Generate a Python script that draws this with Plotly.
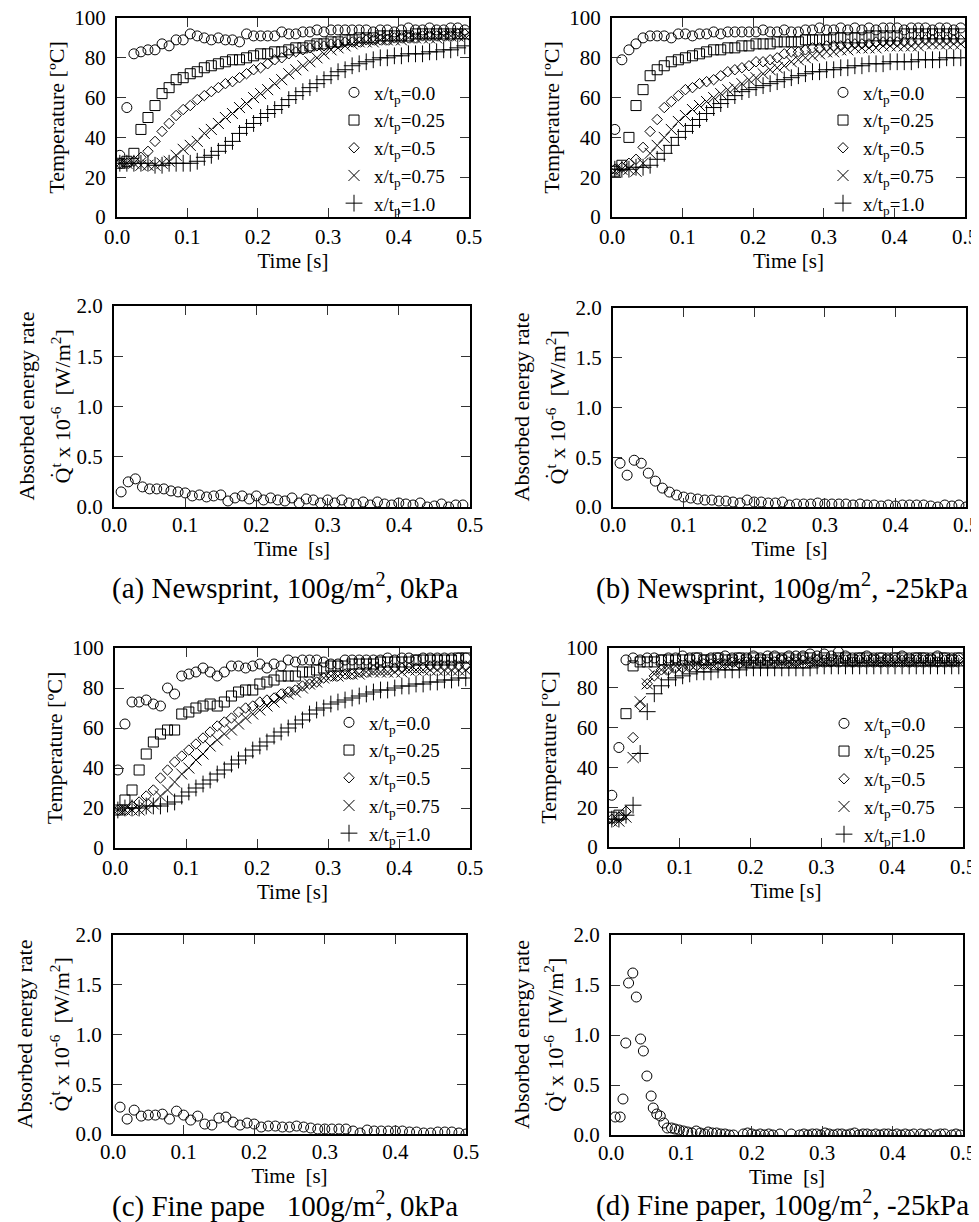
import plotly.graph_objects as go

# The page body has an 8 px margin; the figure is sized so that it fills the
# 979x1222 window exactly, and reference pixel positions are shifted by that margin.
PAGE_W, PAGE_H = 979, 1222
OFF = 8
W, H = PAGE_W - OFF, PAGE_H - OFF
FONT = "Liberation Serif"

# ---------------- data ----------------
T_TEMP = [0.004, 0.014, 0.024, 0.034, 0.044, 0.054, 0.064, 0.074, 0.084, 0.094,
          0.104, 0.114, 0.124, 0.134, 0.144, 0.154, 0.164, 0.174, 0.184, 0.194,
          0.204, 0.214, 0.224, 0.234, 0.244, 0.254, 0.264, 0.274, 0.284, 0.294,
          0.304, 0.314, 0.324, 0.334, 0.344, 0.354, 0.364, 0.374, 0.384, 0.394,
          0.404, 0.414, 0.424, 0.434, 0.444, 0.454, 0.464, 0.474, 0.484, 0.494]

SERIES_LABELS = ["x/t<sub>p</sub>=0.0", "x/t<sub>p</sub>=0.25", "x/t<sub>p</sub>=0.5",
                 "x/t<sub>p</sub>=0.75", "x/t<sub>p</sub>=1.0"]

# (a) Newsprint, 0kPa
A_00 = [31, 55, 82, 83, 84, 84, 87, 86, 89, 89,
        92, 91, 90, 89, 90, 89, 89, 88, 92, 91,
        91, 91, 91, 93, 92, 92, 93, 93, 94, 93,
        94, 94, 94, 94, 94, 94, 93, 94, 94, 93,
        94, 95, 94, 94, 95, 94, 94, 95, 95, 94]
A_025 = [27, 28, 32, 44, 50, 56, 62, 65, 69, 70,
         72, 73, 75, 76, 77, 78, 79, 79, 80, 81,
         82, 82, 83, 83, 84, 85, 85, 86, 87, 87,
         88, 88, 89, 89, 90, 90, 90, 91, 91, 91,
         91, 91, 92, 92, 92, 92, 92, 92, 92, 92]
A_05 = [27, 27, 28, 30, 33, 38, 43, 47, 51, 54,
        56, 59, 61, 63, 65, 67, 68, 70, 72, 74,
        75, 77, 79, 80, 82, 83, 84, 85, 86, 86,
        87, 87, 88, 88, 88, 89, 89, 89, 89, 90,
        90, 90, 90, 91, 91, 91, 91, 91, 92, 92]
A_075 = [27, 27, 27, 26, 26, 26, 27, 28, 31, 34,
         36, 38, 42, 44, 47, 50, 52, 55, 57, 60,
         62, 64, 67, 69, 72, 74, 76, 78, 80, 82,
         84, 85, 86, 87, 88, 88, 88, 89, 89, 89,
         89, 90, 90, 90, 90, 90, 91, 91, 91, 91]
A_10 = [27, 27, 27, 27, 27, 26, 26, 27, 27, 27,
        27, 28, 30, 31, 33, 36, 38, 42, 45, 47,
        50, 52, 54, 56, 59, 61, 63, 65, 67, 69,
        71, 73, 74, 76, 77, 78, 79, 80, 80, 81,
        81, 82, 82, 82, 83, 83, 84, 84, 85, 86]

# (b) Newsprint, -25kPa
B_00 = [44, 79, 84, 87, 90, 91, 91, 91, 90, 92,
        92, 91, 92, 92, 93, 92, 93, 93, 93, 93,
        93, 94, 93, 93, 94, 93, 93, 94, 94, 95,
        94, 94, 95, 94, 95, 94, 95, 94, 95, 95,
        95, 94, 95, 95, 95, 94, 95, 95, 94, 95]
B_025 = [23, 26, 40, 56, 64, 71, 74, 76, 78, 79,
         80, 81, 82, 83, 84, 84, 85, 85, 86, 86,
         87, 87, 87, 88, 88, 88, 88, 89, 89, 89,
         89, 90, 90, 90, 90, 90, 91, 91, 91, 91,
         91, 92, 92, 92, 92, 92, 92, 92, 92, 92]
B_05 = [24, 25, 27, 29, 35, 43, 49, 55, 58, 61,
        64, 65, 67, 68, 69, 71, 73, 74, 75, 76,
        78, 78, 79, 80, 82, 83, 83, 84, 85, 85,
        86, 86, 86, 87, 87, 87, 87, 88, 88, 88,
        88, 88, 88, 89, 89, 89, 89, 89, 89, 89]
B_075 = [23, 24, 24, 23, 27, 32, 36, 40, 44, 48,
         51, 54, 56, 58, 60, 62, 64, 65, 67, 69,
         70, 72, 74, 75, 76, 78, 79, 80, 81, 82,
         83, 83, 84, 84, 85, 85, 85, 85, 86, 86,
         86, 86, 86, 86, 87, 87, 87, 87, 87, 87]
B_10 = [24, 24, 24, 25, 25, 26, 29, 32, 36, 40,
        43, 46, 49, 52, 55, 57, 59, 61, 63, 64,
        65, 66, 67, 68, 69, 70, 71, 72, 73, 73,
        74, 74, 75, 75, 76, 76, 77, 77, 77, 78,
        78, 78, 78, 79, 79, 79, 79, 80, 80, 80]

# (c) Fine paper, 0kPa
C_00 = [39, 62, 73, 73, 74, 72, 71, 80, 77, 86,
        87, 88, 90, 88, 86, 88, 91, 91, 90, 91,
        92, 90, 92, 91, 94, 93, 94, 94, 94, 93,
        92, 92, 94, 94, 94, 94, 94, 94, 95, 94,
        95, 95, 94, 95, 95, 95, 95, 95, 95, 95]
C_025 = [19, 24, 29, 39, 47, 53, 57, 59, 59, 67,
         68, 70, 71, 72, 71, 73, 76, 78, 79, 79,
         82, 83, 84, 86, 86, 86, 88, 88, 89, 90,
         91, 91, 91, 92, 92, 92, 92, 93, 93, 93,
         93, 93, 94, 94, 94, 94, 94, 94, 95, 95]
C_05 = [19, 19, 21, 23, 26, 29, 35, 39, 43, 46,
        49, 52, 55, 58, 61, 63, 65, 68, 70, 71,
        73, 74, 75, 77, 78, 79, 81, 82, 83, 85,
        86, 86, 87, 87, 88, 88, 89, 89, 89, 90,
        90, 90, 90, 90, 91, 91, 91, 91, 91, 91]
C_075 = [19, 19, 19, 19, 20, 22, 26, 29, 33, 37,
         40, 44, 47, 51, 54, 57, 59, 62, 65, 67,
         69, 71, 73, 75, 77, 78, 80, 82, 83, 85,
         86, 86, 87, 87, 87, 88, 88, 88, 88, 88,
         88, 89, 89, 89, 89, 89, 89, 89, 89, 89]
C_10 = [19, 20, 20, 20, 21, 21, 21, 22, 23, 26,
        28, 30, 32, 34, 37, 39, 42, 44, 46, 49,
        51, 53, 56, 58, 60, 62, 64, 67, 69, 70,
        72, 73, 74, 75, 76, 77, 78, 79, 79, 80,
        81, 81, 82, 82, 83, 83, 84, 84, 85, 85]

# (d) Fine paper, -25kPa
D_00 = [26, 50, 94, 95, 94, 95, 95, 94, 95, 95,
        96, 95, 95, 94, 95, 95, 96, 95, 95, 95,
        96, 95, 96, 96, 95, 96, 96, 96, 97, 96,
        97, 96, 98, 96, 95, 95, 96, 95, 95, 95,
        95, 96, 95, 95, 95, 95, 96, 95, 95, 95]
D_025 = [15, 16, 67, 91, 93, 93, 93, 94, 94, 94,
         94, 94, 95, 94, 94, 95, 94, 94, 95, 94,
         95, 94, 94, 95, 94, 95, 94, 95, 95, 94,
         95, 94, 95, 95, 94, 95, 95, 94, 95, 94,
         95, 95, 94, 95, 95, 94, 95, 95, 94, 95]
D_05 = [14, 15, 18, 55, 71, 82, 86, 89, 89, 90,
        90, 91, 91, 92, 92, 92, 92, 93, 92, 93,
        93, 93, 93, 93, 94, 93, 93, 94, 93, 94,
        94, 93, 94, 94, 93, 94, 94, 94, 93, 94,
        94, 94, 93, 94, 94, 94, 93, 94, 94, 94]
D_075 = [13, 13, 15, 45, 73, 82, 87, 89, 90, 91,
         91, 92, 92, 92, 92, 93, 92, 93, 93, 93,
         93, 93, 93, 93, 93, 93, 93, 93, 93, 93,
         93, 93, 94, 93, 93, 93, 93, 93, 93, 93,
         93, 93, 93, 93, 93, 93, 93, 93, 93, 93]
D_10 = [14, 14, 16, 21, 47, 68, 77, 81, 84, 85,
        86, 87, 88, 88, 88, 89, 89, 89, 89, 90,
        90, 90, 90, 90, 90, 90, 90, 90, 90, 91,
        91, 91, 91, 91, 91, 91, 91, 91, 91, 91,
        91, 91, 91, 91, 91, 91, 91, 91, 91, 91]

# Absorbed energy rate (x 1e-6 W/m2)
T_ENERGY = [0.01, 0.02, 0.03, 0.04, 0.05, 0.06, 0.07, 0.08, 0.09, 0.10,
            0.11, 0.12, 0.13, 0.14, 0.15, 0.16, 0.17, 0.18, 0.19, 0.20,
            0.21, 0.22, 0.23, 0.24, 0.25, 0.26, 0.27, 0.28, 0.29, 0.30,
            0.31, 0.32, 0.33, 0.34, 0.35, 0.36, 0.37, 0.38, 0.39, 0.40,
            0.41, 0.42, 0.43, 0.44, 0.45, 0.46, 0.47, 0.48, 0.49, 0.50]
E_A = [0.15, 0.25, 0.28, 0.20, 0.18, 0.18, 0.18, 0.16, 0.15, 0.14,
       0.11, 0.12, 0.10, 0.11, 0.12, 0.06, 0.09, 0.11, 0.08, 0.11,
       0.07, 0.09, 0.07, 0.06, 0.09, 0.04, 0.08, 0.07, 0.04, 0.07,
       0.04, 0.07, 0.04, 0.03, 0.05, 0.02, 0.05, 0.03, 0.02, 0.04,
       0.03, 0.02, 0.04, 0.00, 0.01, 0.03, 0.00, 0.02, 0.02]
E_B = [0.44, 0.32, 0.47, 0.44, 0.34, 0.26, 0.19, 0.15, 0.12, 0.10,
       0.09, 0.08, 0.07, 0.07, 0.06, 0.06, 0.05, 0.04, 0.07, 0.05,
       0.05, 0.04, 0.04, 0.05, 0.02, 0.03, 0.03, 0.03, 0.04, 0.03,
       0.03, 0.03, 0.03, 0.02, 0.03, 0.02, 0.02, 0.01, 0.02, 0.01,
       0.02, 0.02, 0.02, 0.02, 0.01, 0.00, 0.02, 0.01, 0.02, 0.00]
E_C = [0.27, 0.15, 0.24, 0.18, 0.19, 0.19, 0.20, 0.15, 0.23, 0.19,
       0.14, 0.18, 0.10, 0.09, 0.16, 0.17, 0.12, 0.09, 0.11, 0.10,
       0.07, 0.08, 0.08, 0.07, 0.07, 0.08, 0.07, 0.06, 0.05, 0.05,
       0.05, 0.05, 0.05, 0.03, 0.01, 0.04, 0.03, 0.03, 0.03, 0.03,
       0.03, 0.02, 0.02, 0.01, 0.01, 0.02, 0.02, 0.02, 0.01, 0.00]
T_ENERGY_D = [0.006, 0.013, 0.017, 0.021, 0.025, 0.031, 0.036, 0.042, 0.046, 0.051,
              0.057, 0.060, 0.065, 0.070, 0.075, 0.080, 0.086, 0.091, 0.097, 0.103,
              0.109, 0.115, 0.121, 0.127, 0.133, 0.138, 0.144, 0.150, 0.156, 0.162,
              0.168, 0.174,
              0.188, 0.194, 0.200, 0.206, 0.212, 0.218, 0.224, 0.230, 0.240, 0.256,
              0.268, 0.274, 0.280, 0.286, 0.292, 0.298, 0.304, 0.310, 0.316, 0.322,
              0.328, 0.334, 0.340, 0.346, 0.352, 0.358, 0.364, 0.370, 0.376, 0.382,
              0.388, 0.394, 0.400, 0.406, 0.412, 0.418, 0.424, 0.430, 0.440, 0.446,
              0.452, 0.462, 0.468, 0.474, 0.484, 0.490, 0.496]
E_D = [0.18, 0.18, 0.36, 0.92, 1.52, 1.62, 1.38, 0.96, 0.84, 0.59,
       0.39, 0.27, 0.21, 0.19, 0.12, 0.07, 0.07, 0.06, 0.05, 0.04,
       0.03, 0.02, 0.04, 0.02, 0.01, 0.03, 0.02, 0.02, 0.01, 0.01,
       0.00, 0.00,
       0.01, 0.02, 0.01, 0.00, 0.01, 0.00, 0.01, 0.00, 0.01, 0.01,
       0.00, 0.01, 0.00, 0.01, 0.01, 0.00, 0.02, 0.01, 0.00, 0.01,
       0.01, 0.00, 0.01, 0.02, 0.00, 0.01, 0.01, 0.00, 0.01, 0.00,
       0.01, 0.01, 0.00, 0.01, 0.00, 0.01, 0.00, 0.01, 0.01, 0.00,
       0.01, 0.00, 0.01, 0.01, 0.00, 0.01, 0.00]

X_TICKS = [0.0, 0.1, 0.2, 0.3, 0.4, 0.5]
X_TICKTEXT = ["0.0", "0.1", "0.2", "0.3", "0.4", "0.5"]
T_TICKS = [0, 20, 40, 60, 80, 100]
E_TICKS = [0.0, 0.5, 1.0, 1.5, 2.0]
E_TICKTEXT = ["0.0", "0.5", "1.0", "1.5", "2.0"]

CAPTIONS = ["(a) Newsprint, 100g/m<sup>2</sup>, 0kPa",
            "(b) Newsprint, 100g/m<sup>2</sup>, -25kPa",
            "(c) Fine pape\u00a0\u00a0\u00a0100g/m<sup>2</sup>, 0kPa",
            "(d) Fine paper, 100g/m<sup>2</sup>, -25kPa"]

# ---------------- styling / layout ----------------
SYMBOLS = ["circle-open", "square-open", "diamond-open", "x-thin-open", "cross-thin-open"]
SIZES = [10, 10, 8, 11, 12]


def xdom(l, r):
    return [(l - OFF) / W, (r - OFF) / W]


def ydom(t, b):
    return [1 - (b - OFF) / H, 1 - (t - OFF) / H]


def px(x):
    return (x - OFF) / W


def py(y):
    return 1 - (y - OFF) / H


temp_panels = [
    dict(ax=1, box=(117, 469, 18, 217), series=[A_00, A_025, A_05, A_075, A_10], legend="legend", leg=(334, 148)),
    dict(ax=2, box=(612, 965, 18, 217), series=[B_00, B_025, B_05, B_075, B_10], legend="legend2", leg=(823, 148)),
    dict(ax=5, box=(115, 470, 648, 848), series=[C_00, C_025, C_05, C_075, C_10], legend="legend3", leg=(329, 778)),
    dict(ax=6, box=(609, 963, 648, 847), series=[D_00, D_025, D_05, D_075, D_10], legend="legend4", leg=(824, 779)),
]
energy_panels = [
    dict(ax=3, box=(114, 470, 306, 507), t=T_ENERGY[:len(E_A)], e=E_A, tx=(26, 60)),
    dict(ax=4, box=(613, 966, 308, 507), t=T_ENERGY, e=E_B, tx=(521, 555)),
    dict(ax=7, box=(113, 466, 935, 1134), t=T_ENERGY, e=E_C, tx=(24, 59)),
    dict(ax=8, box=(611, 963, 935, 1135), t=T_ENERGY_D, e=E_D, tx=(521, 554)),
]
caption_pos = [(285, 586), (782, 586), (285, 1204), (782, 1203)]

fig = go.Figure()
layout = dict(
    width=W, height=H, margin=dict(l=0, r=0, t=0, b=0),
    paper_bgcolor="white", plot_bgcolor="white",
    font=dict(family=FONT, size=20, color="black"),
    showlegend=True,
)

axis_common = dict(
    showline=True, linecolor="black", linewidth=2, mirror="ticks",
    ticks="inside", ticklen=9, tickwidth=1, tickcolor="#333",
    showgrid=False, zeroline=False, automargin=False,
    ticklabeloverflow="allow",
    tickfont=dict(family=FONT, size=21, color="black"),
)


def key(prefix, n):
    return prefix if n == 1 else f"{prefix}{n}"


annotations = []

for p in temp_panels:
    n = p["ax"]
    l, r, t, b = p["box"]
    xa, ya = key("x", n), key("y", n)
    for i, vals in enumerate(p["series"]):
        fig.add_trace(go.Scatter(
            x=T_TEMP, y=vals, mode="markers", name=SERIES_LABELS[i],
            xaxis=xa, yaxis=ya, legend=p["legend"],
            marker=dict(symbol=SYMBOLS[i], size=SIZES[i], color="black",
                        line=dict(width=1, color="black")),
        ))
    layout[key("xaxis", n)] = dict(
        axis_common, domain=xdom(l, r), anchor=ya, range=[0, 0.5],
        tickvals=X_TICKS, ticktext=X_TICKTEXT, ticklabelstandoff=0,
        title=dict(text="Time [s]", font=dict(family=FONT, size=21), standoff=3),
    )
    layout[key("yaxis", n)] = dict(
        axis_common, domain=ydom(t, b), anchor=xa, range=[0, 100],
        tickvals=T_TICKS, ticklabelstandoff=5,
        title=dict(text="Temperature [ºC]", font=dict(family=FONT, size=22), standoff=4),
    )
    lx, ly = p["leg"]
    layout[p["legend"]] = dict(
        x=px(lx), y=py(ly), xanchor="left", yanchor="middle",
        font=dict(family=FONT, size=19, color="black"),
        bgcolor="rgba(0,0,0,0)", borderwidth=0,
    )

for p in energy_panels:
    n = p["ax"]
    l, r, t, b = p["box"]
    xa, ya = key("x", n), key("y", n)
    fig.add_trace(go.Scatter(
        x=p["t"], y=p["e"], mode="markers", showlegend=False,
        xaxis=xa, yaxis=ya,
        marker=dict(symbol="circle-open", size=10, color="black",
                    line=dict(width=1, color="black")),
    ))
    layout[key("xaxis", n)] = dict(
        axis_common, domain=xdom(l, r), anchor=ya, range=[0, 0.5],
        tickvals=X_TICKS, ticktext=X_TICKTEXT, ticklabelstandoff=-2,
        title=dict(text="Time\u00a0 [s]", font=dict(family=FONT, size=21), standoff=0),
    )
    layout[key("yaxis", n)] = dict(
        axis_common, domain=ydom(t, b), anchor=xa, range=[0, 2.0],
        tickvals=E_TICKS, ticktext=E_TICKTEXT, ticklabelstandoff=5,
    )
    yc = py((t + b) / 2)
    annotations.append(dict(
        text="Absorbed energy rate", x=px(p["tx"][0]), y=yc, xref="paper", yref="paper",
        textangle=-90, showarrow=False, xanchor="center", yanchor="middle",
        font=dict(family=FONT, size=22, color="black"),
    ))
    annotations.append(dict(
        text="Q\u0307<sup>t</sup> x 10<sup>-6</sup>\u00a0\u00a0[W/m<sup>2</sup>]",
        x=px(p["tx"][1]), y=yc, xref="paper", yref="paper",
        textangle=-90, showarrow=False, xanchor="center", yanchor="middle",
        font=dict(family=FONT, size=22, color="black"),
    ))

for text, (cx, cy) in zip(CAPTIONS, caption_pos):
    annotations.append(dict(
        text=text, x=px(cx), y=py(cy), xref="paper", yref="paper",
        showarrow=False, xanchor="center", yanchor="middle",
        font=dict(family=FONT, size=29, color="black"),
    ))

layout["annotations"] = annotations
fig.update_layout(**layout)
fig.write_html("out.html")
